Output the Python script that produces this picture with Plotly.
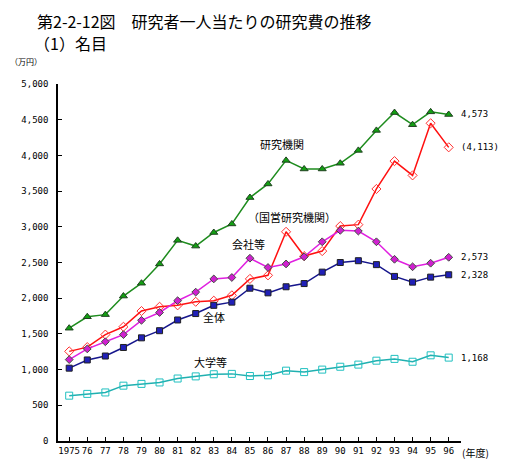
import plotly.graph_objects as go

years = list(range(1975, 1997))
year_labels = ["1975"] + [str(y)[2:] for y in range(1976, 1997)]

kenkyu_kikan = [1580, 1740, 1770, 2030, 2210, 2480, 2810, 2730, 2920, 3040, 3410, 3600,
                3930, 3810, 3810, 3890, 4070, 4350, 4600, 4430, 4610, 4573]
kokuei = [1255, 1315, 1490, 1600, 1820, 1880, 1900, 1950, 1965, 2040, 2270, 2320,
          2930, 2590, 2660, 3010, 3030, 3530, 3920, 3720, 4450, 4113]
kaisha = [1140, 1290, 1390, 1490, 1690, 1800, 1965, 2085, 2270, 2290, 2560, 2430,
          2480, 2580, 2790, 2950, 2940, 2790, 2545, 2440, 2490, 2573]
zentai = [1020, 1135, 1190, 1310, 1445, 1545, 1695, 1785, 1900, 1945, 2140, 2075,
          2160, 2205, 2365, 2500, 2525, 2470, 2305, 2225, 2295, 2328]
daigaku = [635, 660, 680, 775, 800, 820, 875, 905, 935, 940, 910, 920,
           985, 965, 1000, 1040, 1070, 1125, 1150, 1110, 1200, 1168]

y_ticks = [0, 500, 1000, 1500, 2000, 2500, 3000, 3500, 4000, 4500, 5000]
y_tick_labels = ["0", "500", "1,000", "1,500", "2,000", "2,500", "3,000", "3,500",
                 "4,000", "4,500", "5,000"]

series = [
    ("研究機関", kenkyu_kikan, "#1e8c1e", dict(symbol="triangle-up", size=7, color="#12a012",
                                             line=dict(color="#204020", width=1))),
    ("（国営研究機関）", kokuei, "#ff1010", dict(symbol="diamond-open", size=7, color="#ff3030",
                                            line=dict(width=1))),
    ("会社等", kaisha, "#e020e0", dict(symbol="diamond", size=6, color="#d020d0",
                                     line=dict(color="#405040", width=1))),
    ("全体", zentai, "#16168c", dict(symbol="square", size=6, color="#2020b8",
                                   line=dict(color="#202020", width=1))),
    ("大学等", daigaku, "#20b0b0", dict(symbol="square-open", size=7, color="#20c0c0",
                                     line=dict(width=1))),
]

fig = go.Figure()
for name, vals, col, mk in series:
    fig.add_trace(go.Scatter(x=years, y=vals, mode="lines+markers", name=name,
                             line=dict(color=col, width=1.5), marker=mk,
                             showlegend=False, cliponaxis=False))

tick_font = dict(family="DejaVu Sans Mono", size=9, color="#000")
jp = "Noto Sans CJK JP"

# page body has an 8px default margin, so the figure is sized/offset to compensate
fig.update_layout(
    width=514, height=460,
    margin=dict(l=50, r=61, t=76, b=22),
    paper_bgcolor="white", plot_bgcolor="white",
    xaxis=dict(range=[1974.38, 1996.68], tickmode="array", tickvals=years, ticktext=year_labels,
               tickangle=0,
               showline=True, linecolor="#000", linewidth=1.5, ticks="inside", ticklen=4,
               tickcolor="#000", showgrid=False, zeroline=False, tickfont=tick_font),
    yaxis=dict(range=[0, 5000], tickmode="array", tickvals=y_ticks, ticktext=y_tick_labels,
               showline=True, linecolor="#000", linewidth=1.5, ticks="inside", ticklen=4,
               tickcolor="#000", showgrid=False, zeroline=False, tickfont=tick_font,
               ticklabelstandoff=6),
)

# positions in page pixels (reference); plot area spans x 58..453, y 84..438
anns = [
    dict(text="第2-2-12図　研究者一人当たりの研究費の推移", x=35, y=8, size=16, anchor="left", ya="top"),
    dict(text="（1）名目", x=33, y=43, size=16, anchor="left", ya="middle"),
    dict(text="（万円）", x=9, y=62, size=8, anchor="left", ya="middle"),
    dict(text="(年度)", x=452, y=449, size=10, anchor="left", ya="middle"),
    dict(text="研究機関", x=278, y=143, size=11, anchor="center", ya="middle"),
    dict(text="（国営研究機関）", x=287, y=216, size=11, anchor="center", ya="middle"),
    dict(text="会社等", x=245, y=243, size=11, anchor="center", ya="middle"),
    dict(text="全体", x=211, y=315, size=11, anchor="center", ya="middle"),
    dict(text="大学等", x=207, y=360, size=11, anchor="center", ya="middle"),
]
for a in anns:
    fig.add_annotation(text=a["text"], xref="x domain", yref="y domain",
                       x=(a["x"] - 58) / 395, y=(438 - a["y"]) / 354,
                       xanchor=a["anchor"], yanchor=a["ya"], showarrow=False,
                       font=dict(family=jp, size=a["size"], color="#000"))

end_labels = [("4,573", kenkyu_kikan[-1]), ("(4,113)", kokuei[-1]),
              ("2,573", kaisha[-1]), ("2,328", zentai[-1]), ("1,168", daigaku[-1])]
for txt, v in end_labels:
    fig.add_annotation(text=txt, x=1996, y=v, xref="x", yref="y", xanchor="left",
                       yanchor="middle", xshift=10, showarrow=False,
                       font=dict(family="DejaVu Sans Mono", size=9, color="#000"))

fig.write_html("out.html")
